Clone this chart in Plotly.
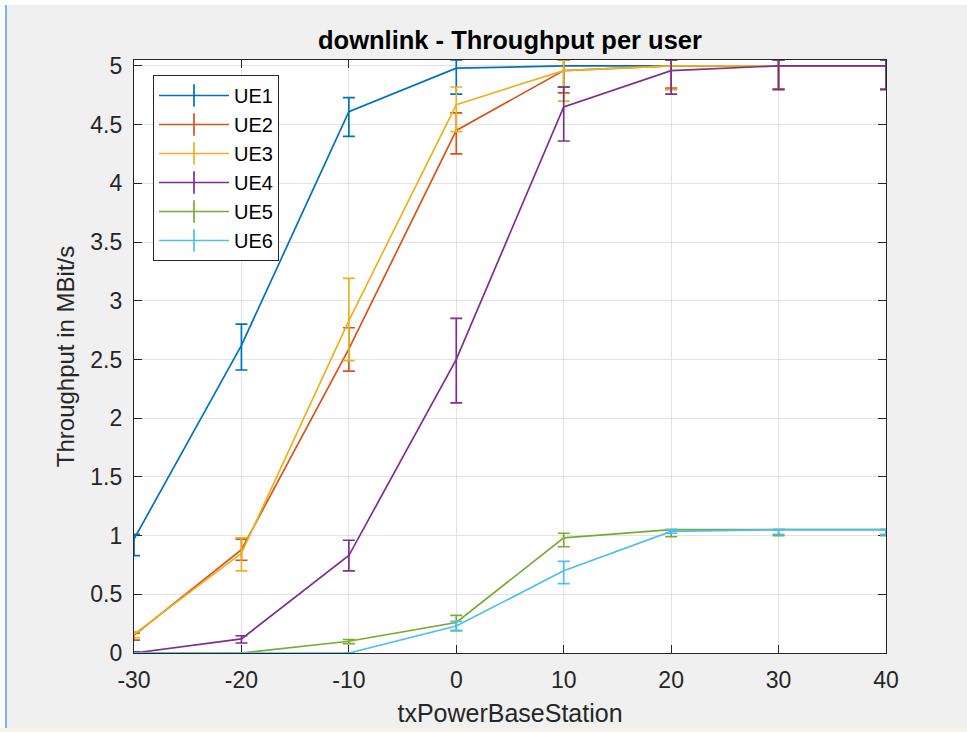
import numpy as np
import plotly.graph_objects as go

# Transmit power of the base station (x axis)
tx_power = [-30, -20, -10, 0, 10, 20, 30, 40]
tx_labels = ["-30", "-20", "-10", "0", "10", "20", "30", "40"]

# Mean downlink throughput per user in MBit/s, with the upper and lower ends of each error bar
ue1 = [0.97, 2.62, 4.61, 4.98, 5.00, 5.00, 5.00, 5.00]
ue1_hi = [1.01, 2.80, 4.73, 5.05, 5.05, 5.05, 5.05, 5.05]
ue1_lo = [0.83, 2.41, 4.40, 4.76, 4.82, 4.80, 4.80, 4.80]

ue2 = [0.15, 0.88, 2.59, 4.45, 4.96, 5.00, 5.00, 5.00]
ue2_hi = [0.17, 0.97, 2.77, 4.60, 5.05, 5.05, 5.05, 5.05]
ue2_lo = [0.11, 0.79, 2.40, 4.25, 4.77, 4.81, 4.80, 4.80]

ue3 = [0.16, 0.85, 2.83, 4.67, 4.96, 5.00, 5.00, 5.00]
ue3_hi = [0.18, 0.98, 3.19, 4.82, 5.05, 5.05, 5.05, 5.05]
ue3_lo = [0.13, 0.70, 2.49, 4.44, 4.70, 4.80, 4.80, 4.80]

ue4 = [0.00, 0.12, 0.83, 2.50, 4.65, 4.96, 5.00, 5.00]
ue4_hi = [0.01, 0.147, 0.96, 2.85, 4.82, 5.05, 5.05, 5.05]
ue4_lo = [0.00, 0.085, 0.70, 2.13, 4.36, 4.76, 4.80, 4.80]

ue5 = [0.00, 0.00, 0.10, 0.26, 0.98, 1.05, 1.05, 1.05]
ue5_hi = [0.00, 0.00, 0.115, 0.32, 1.02, 1.05, 1.05, 1.05]
ue5_lo = [0.00, 0.00, 0.08, 0.19, 0.905, 0.99, 1.00, 1.00]

ue6 = [0.00, 0.00, 0.00, 0.23, 0.70, 1.035, 1.05, 1.05]
ue6_hi = [0.00, 0.00, 0.00, 0.27, 0.78, 1.05, 1.05, 1.05]
ue6_lo = [0.00, 0.00, 0.00, 0.19, 0.59, 1.02, 1.01, 1.01]

names = ["UE1", "UE2", "UE3", "UE4", "UE5", "UE6"]
colors = ["#0072BD", "#D95319", "#EDB120", "#7E2F8E", "#77AC30", "#4DBEEE"]
series = [
    (ue1, ue1_hi, ue1_lo),
    (ue2, ue2_hi, ue2_lo),
    (ue3, ue3_hi, ue3_lo),
    (ue4, ue4_hi, ue4_lo),
    (ue5, ue5_hi, ue5_lo),
    (ue6, ue6_hi, ue6_lo),
]

FONT = "Liberation Sans, Arial, sans-serif"
AX = "#262626"
LW = 1.7

fig = go.Figure()

for name, color, (mean, hi, lo) in zip(names, colors, series):
    m = np.array(mean)
    fig.add_trace(go.Scatter(
        x=tx_power, y=m, mode="lines", name=name,
        line=dict(color=color, width=LW),
        error_y=dict(type="data", symmetric=False,
                     array=np.array(hi) - m, arrayminus=m - np.array(lo),
                     color=color, thickness=LW, width=6),
        cliponaxis=False, showlegend=False, legendgroup=name,
    ))

# Legend keys: a line with a vertical tick, like an error-bar glyph
for name, color in zip(names, colors):
    fig.add_trace(go.Scatter(
        x=[None], y=[None], mode="lines+markers", name=name,
        line=dict(color=color, width=LW),
        marker=dict(symbol="line-ns-open", size=16, color=color,
                    line=dict(color=color, width=LW)),
        legendgroup=name, showlegend=True,
    ))

# Window frame around the axes
frame = [
    dict(type="rect", xref="paper", yref="paper", x0=-0.2, x1=1.2,
         y0=(653 - 5) / 593, y1=1.2, fillcolor="#ffffff", line_width=0, layer="below"),
    dict(type="rect", xref="paper", yref="paper", x0=-0.2, x1=-0.1715,
         y0=-0.2, y1=1.2, fillcolor="#fbfbfb", line_width=0, layer="below"),
    dict(type="line", xref="paper", yref="paper", x0=-0.1702, x1=-0.1702,
         y0=-0.2, y1=(653 - 5) / 593, line=dict(color="#7fb3e3", width=2), layer="below"),
    dict(type="rect", xref="paper", yref="paper", x0=-0.2, x1=1.2,
         y0=-0.2, y1=(653 - 728) / 593, fillcolor="#f9f3ea", line_width=0, layer="below"),
]

axis_common = dict(
    showline=True, linecolor=AX, linewidth=1.2, mirror="ticks",
    ticks="inside", ticklen=8, tickwidth=1, tickcolor=AX,
    showgrid=True, gridcolor="#e3e3e3", gridwidth=1,
    zeroline=False, tickfont=dict(family=FONT, size=23, color=AX),
    layer="below traces", automargin=False,
)

fig.update_layout(
    template="none",
    width=967, height=732,
    margin=dict(l=134, r=81, t=60, b=79),
    paper_bgcolor="#f0f0f0", plot_bgcolor="#ffffff",
    shapes=frame,
    title=dict(text="<b>downlink - Throughput per user</b>",
               font=dict(family=FONT, size=25.5, color="#000000"),
               x=0.5, xref="paper", xanchor="center",
               y=1, yref="paper", yanchor="bottom", pad=dict(b=11)),
    xaxis=dict(range=[-30, 40], tickvals=tx_power, ticktext=tx_labels, ticklabelstandoff=6,
               title=dict(text="txPowerBaseStation", standoff=12,
                          font=dict(family=FONT, size=25, color=AX)),
               **axis_common),
    yaxis=dict(range=[0, 5.05], dtick=0.5, tick0=0, ticklabelstandoff=6,
               title=dict(text="Throughput in MBit/s", standoff=8,
                          font=dict(family=FONT, size=24, color=AX)),
               **axis_common),
    legend=dict(x=(153 - 134) / 752, y=(653 - 75) / 593, xanchor="left", yanchor="top",
                bgcolor="#ffffff", bordercolor=AX, borderwidth=1,
                font=dict(family=FONT, size=20, color="#000000"),
                itemwidth=70, tracegroupgap=0),
)

fig.write_html("out.html")
